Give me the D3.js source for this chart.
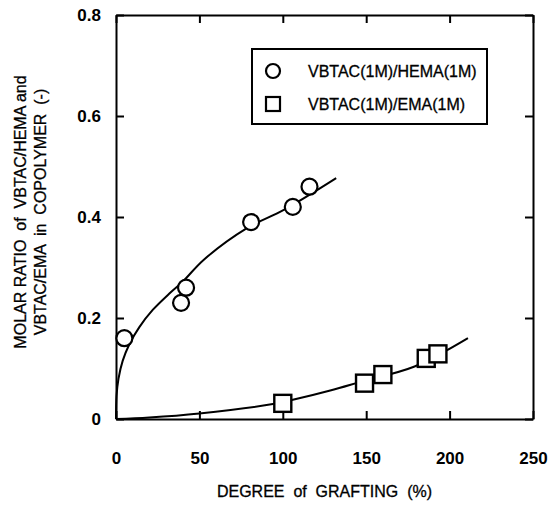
<!DOCTYPE html>
<html>
<head>
<meta charset="utf-8">
<script src="https://cdn.jsdelivr.net/npm/d3@7"></script>
<style>
  body { margin: 0; background: #fff; }
  svg text { font-family: "Liberation Sans", Arial, Helvetica, sans-serif; fill: #000; white-space: pre; }
</style>
</head>
<body>
<div id="chart"></div>
<script>
// series
const hemaGrafting = [5, 39, 42, 81, 106, 116];
const hemaRatio    = [0.16, 0.23, 0.26, 0.39, 0.42, 0.46];
const emaGrafting  = [100, 149, 160, 186, 193];
const emaRatio     = [0.031, 0.071, 0.088, 0.12, 0.129];

// fitted curves
const hemaFitX = [0, 0.3, 1.5, 4, 8, 14, 22, 32.5, 40, 52.5, 78.5, 100.6, 132];
const hemaFitY = [0, 0.045, 0.08, 0.115, 0.148, 0.182, 0.216, 0.25, 0.272, 0.315, 0.378, 0.414, 0.477];
const emaFitX  = [0, 20, 50, 95, 106, 129, 147, 179, 211];
const emaFitY  = [0, 0.003, 0.011, 0.03, 0.038, 0.057, 0.074, 0.104, 0.16];

const xTicks = [0, 50, 100, 150, 200, 250];
const yTicks = [0, 0.2, 0.4, 0.6, 0.8];
const legendLabels = ["VBTAC(1M)/HEMA(1M)", "VBTAC(1M)/EMA(1M)"];

const margin = {top: 15, right: 16, bottom: 91, left: 116},
    width = 549 - margin.left - margin.right,
    height = 510 - margin.top - margin.bottom;

const svg = d3.select("#chart")
  .append("svg")
    .attr("width", 549)
    .attr("height", 510)
  .append("g")
    .attr("transform", `translate(${margin.left}, ${margin.top})`);

const xScale = d3.scaleLinear().domain([0, 250]).range([0, width]);
const yScale = d3.scaleLinear().domain([0, 0.8]).range([height, 0]);

const fmtY = d => d === 0 ? "0" : d3.format(".1f")(d);

// bottom axis, ticks pointing inwards
const xAxis = svg.append("g")
  .attr("transform", `translate(0, ${height})`)
  .call(d3.axisBottom(xScale).tickValues(xTicks).tickSize(-8).tickSizeOuter(0).tickPadding(33));

const yAxis = svg.append("g")
  .call(d3.axisLeft(yScale).tickValues(yTicks).tickFormat(fmtY).tickSize(-8).tickSizeOuter(0).tickPadding(15));

const topAxis = svg.append("g")
  .call(d3.axisTop(xScale).tickValues(xTicks).tickSize(-8).tickSizeOuter(0).tickFormat(""));

const rightAxis = svg.append("g")
  .attr("transform", `translate(${width}, 0)`)
  .call(d3.axisRight(yScale).tickValues(yTicks).tickSize(-8).tickSizeOuter(0).tickFormat(""));

[xAxis, yAxis, topAxis, rightAxis].forEach(a => {
  a.select(".domain").attr("stroke", "#000").attr("stroke-width", 2);
  a.selectAll(".tick line").attr("stroke", "#000").attr("stroke-width", 2);
  a.selectAll(".tick text")
    .style("font-size", "17px")
    .style("font-weight", "bold");
});

// fitted curves
const line = d3.line()
  .x(d => xScale(d[0]))
  .y(d => yScale(d[1]))
  .curve(d3.curveCatmullRom);

svg.append("path")
  .datum(hemaFitX.map((x, i) => [x, hemaFitY[i]]))
  .attr("d", line)
  .attr("fill", "none")
  .attr("stroke", "#000")
  .attr("stroke-width", 2);

svg.append("path")
  .datum(emaFitX.map((x, i) => [x, emaFitY[i]]))
  .attr("d", line)
  .attr("fill", "none")
  .attr("stroke", "#000")
  .attr("stroke-width", 2);

// markers
svg.append("g").selectAll("circle")
  .data(hemaGrafting.map((x, i) => [x, hemaRatio[i]]))
  .enter()
  .append("circle")
    .attr("cx", d => xScale(d[0]))
    .attr("cy", d => yScale(d[1]))
    .attr("r", 8)
    .attr("fill", "#fff")
    .attr("stroke", "#000")
    .attr("stroke-width", 2.2);

const sq = 17;
svg.append("g").selectAll("rect")
  .data(emaGrafting.map((x, i) => [x, emaRatio[i]]))
  .enter()
  .append("rect")
    .attr("x", d => xScale(d[0]) - sq / 2)
    .attr("y", d => yScale(d[1]) - sq / 2)
    .attr("width", sq)
    .attr("height", sq)
    .attr("fill", "#fff")
    .attr("stroke", "#000")
    .attr("stroke-width", 2.4);

// legend
const legend = svg.append("g")
  .attr("transform", `translate(${252 - margin.left}, ${49 - margin.top})`);

legend.append("rect")
  .attr("width", 235)
  .attr("height", 75)
  .attr("fill", "#fff")
  .attr("stroke", "#000")
  .attr("stroke-width", 2);

legend.append("circle")
  .attr("cx", 21).attr("cy", 22).attr("r", 7)
  .attr("fill", "#fff").attr("stroke", "#000").attr("stroke-width", 2.2);

legend.append("rect")
  .attr("x", 14).attr("y", 48).attr("width", 14).attr("height", 14)
  .attr("fill", "#fff").attr("stroke", "#000").attr("stroke-width", 2.2);

legend.selectAll("text.lab")
  .data(legendLabels)
  .enter()
  .append("text")
    .attr("class", "lab")
    .attr("x", 56)
    .attr("y", (d, i) => 22 + i * 33)
    .attr("dy", "0.36em")
    .style("font-size", "16px")
    .style("stroke", "#000")
    .style("stroke-width", 0.3)
    .text(d => d);

// axis titles
svg.append("text")
  .attr("x", width / 2)
  .attr("y", 497 - margin.top)
  .attr("text-anchor", "middle")
  .style("font-size", "16px")
  .style("stroke", "#000")
  .style("stroke-width", 0.3)
  .text("DEGREE  of  GRAFTING  (%)");

const yTitle = svg.append("g")
  .attr("transform", `translate(${-margin.left}, ${212 - margin.top}) rotate(-90)`);

yTitle.append("text")
  .attr("x", 0).attr("y", 26)
  .attr("text-anchor", "middle")
  .style("font-size", "16px")
  .style("stroke", "#000")
  .style("stroke-width", 0.3)
  .text("MOLAR RATIO  of  VBTAC/HEMA and");

yTitle.append("text")
  .attr("x", 0).attr("y", 46)
  .attr("text-anchor", "middle")
  .style("font-size", "16px")
  .style("stroke", "#000")
  .style("stroke-width", 0.3)
  .text("VBTAC/EMA  in  COPOLYMER  (-)");
</script>
</body>
</html>
